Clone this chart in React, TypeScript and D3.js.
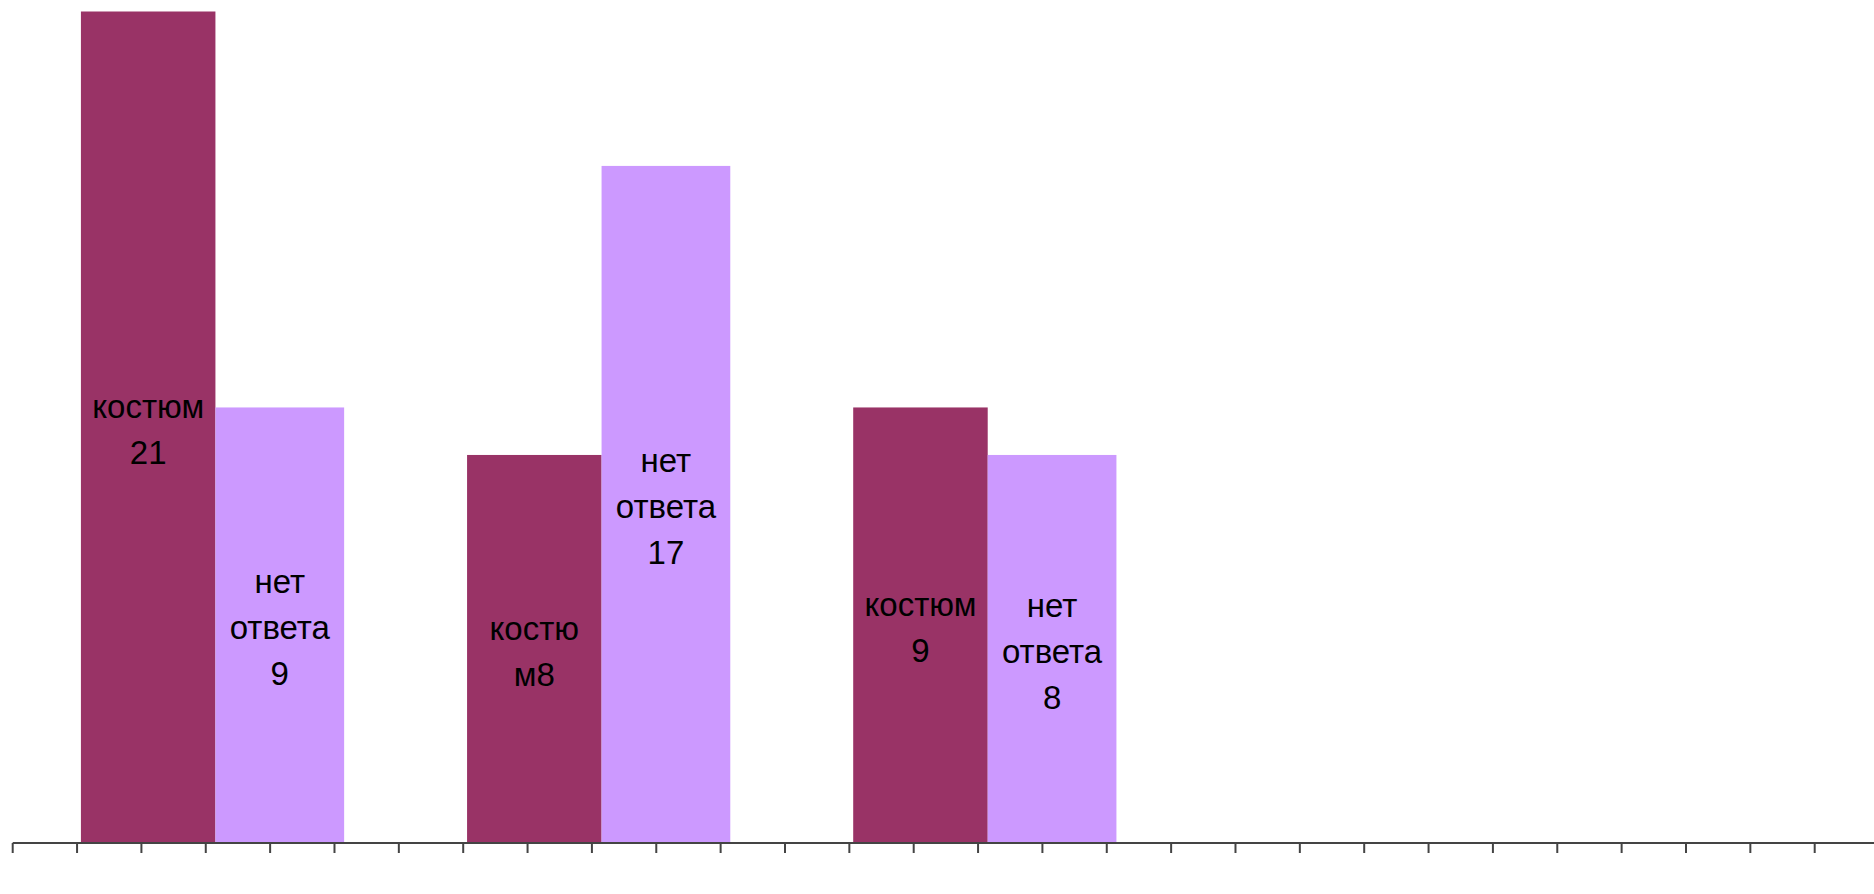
import React from "react";
import * as d3 from "d3";

// Groups (three questions / cases) and the two answer series
const groups = ["Группа 1", "Группа 2", "Группа 3"];
const seriesNames = ["костюм", "нет ответа"];

// Counts shown in the data labels
const costumeCounts = [21, 8, 9];
const noAnswerCounts = [9, 17, 8];

// Bar heights (in chart units, 0..21)
const costumeHeights = [21, 9.8, 11.0];
const noAnswerHeights = [11.0, 17.1, 9.8];

// Data label lines as wrapped in the original
const costumeLabelLines = [["костюм", "21"], ["костю", "м8"], ["костюм", "9"]];
const noAnswerLabelLines = [["нет", "ответа", "9"], ["нет", "ответа", "17"], ["нет", "ответа", "8"]];

// Category axis tick slots
const tickSlots = d3.range(0, 29);

const W = 1874;
const H = 894;
const COLORS = ["#993366", "#CC99FF"];

export default function App() {
  const baseline = 843;
  const top = 11.5;
  const x = d3.scaleLinear().domain([0, 28]).range([12.7, 1814.7]);
  const y = d3.scaleLinear().domain([0, 21]).range([baseline, top]);
  const slotsPerGroup = 6;
  const dividerOffset = 3.15;
  const costumeUnits = 2.09;
  const noAnswerUnits = 2.0;
  const fontSize = 33;
  const lineH = 46;

  const bars: { x0: number; x1: number; v: number; lines: string[]; color: string; key: string }[] = [];
  groups.forEach((g, i) => {
    const c = slotsPerGroup * i + dividerOffset;
    bars.push({
      key: g + "-0",
      x0: x(c - costumeUnits),
      x1: x(c),
      v: costumeHeights[i],
      lines: costumeLabelLines[i],
      color: COLORS[0],
    });
    bars.push({
      key: g + "-1",
      x0: x(c),
      x1: x(c + noAnswerUnits),
      v: noAnswerHeights[i],
      lines: noAnswerLabelLines[i],
      color: COLORS[1],
    });
  });

  return (
    <svg
      width={W}
      height={H}
      style={{ position: "absolute", left: 0, top: 0, background: "#fff", display: "block" }}
      fontFamily="'Liberation Sans', Arial, sans-serif"
    >
      <title>{seriesNames.join(" / ") + " " + costumeCounts.concat(noAnswerCounts).join(",")}</title>
      {bars.map((b) => (
        <rect key={b.key} x={b.x0} y={y(b.v)} width={b.x1 - b.x0} height={baseline - y(b.v)} fill={b.color} />
      ))}
      <line x1={x(0)} x2={W} y1={baseline} y2={baseline} stroke="#444" strokeWidth={2} />
      {tickSlots.map((t) => (
        <line key={t} x1={x(t)} x2={x(t)} y1={baseline} y2={baseline + 10} stroke="#444" strokeWidth={2} />
      ))}
      {bars.map((b) => {
        const mid = (y(b.v) + baseline) / 2;
        const first = mid - ((b.lines.length - 1) * lineH) / 2 + 14;
        const cx = (b.x0 + b.x1) / 2;
        return (
          <text key={b.key + "-t"} textAnchor="middle" fontSize={fontSize} fill="#000">
            {b.lines.map((l, j) => (
              <tspan key={j} x={cx} y={first + j * lineH}>
                {l}
              </tspan>
            ))}
          </text>
        );
      })}
    </svg>
  );
}
